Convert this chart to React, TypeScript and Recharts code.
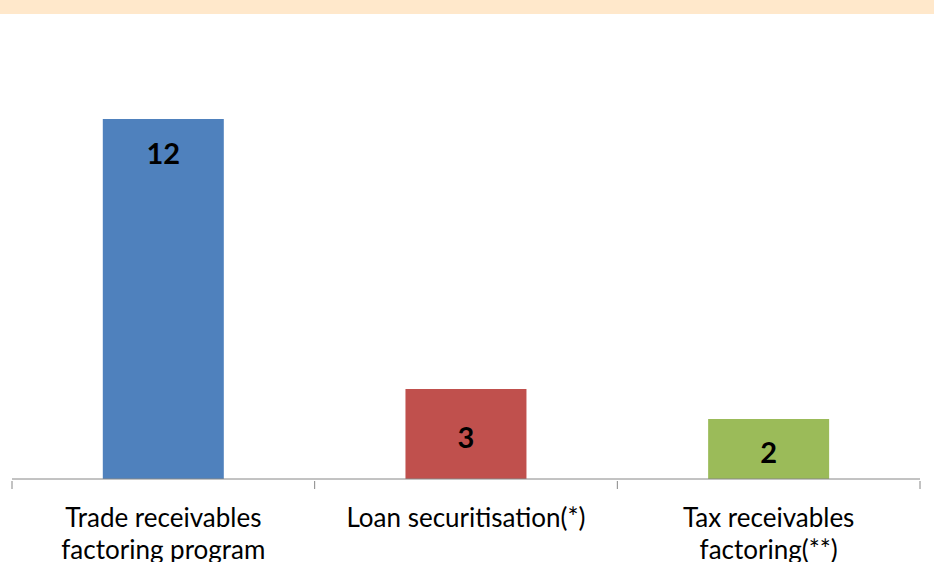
import { BarChart, Bar, XAxis, YAxis, Cell, LabelList } from 'recharts';

const categories = ['Trade receivables\nfactoring program', 'Loan securitisation(*)', 'Tax receivables\nfactoring(**)'];
const values = [12, 3, 2];
const colors = ['#4F81BD', '#C0504D', '#9BBB59'];

const data = categories.map((name, i) => ({ name, value: values[i] }));

const FONT = 'Lato, "Open Sans", sans-serif';
const W = 934;
const H = 562;
const MARGIN = { top: 59, right: 14, bottom: 0, left: 12 };
const HALF_BAND = (W - MARGIN.left - MARGIN.right) / categories.length / 2;
const AXIS_COLOR = '#868686';

function CategoryTick({ x, y, payload, index }: any) {
  const lines = String(payload.value).split('\n');
  const top = y - 8;
  return (
    <g>
      {/* Excel style: tick marks sit between categories */}
      <line x1={x - HALF_BAND} x2={x - HALF_BAND} y1={top} y2={top + 8} stroke={AXIS_COLOR} />
      {index === categories.length - 1 && (
        <line x1={x + HALF_BAND} x2={x + HALF_BAND} y1={top} y2={top + 8} stroke={AXIS_COLOR} />
      )}
      <text x={x} y={top + 46} textAnchor="middle" fontFamily={FONT} fontSize={26} fill="#000">
        {lines.map((l, i) => (
          <tspan key={i} x={x} dy={i === 0 ? 0 : 32}>{l}</tspan>
        ))}
      </text>
    </g>
  );
}

function ValueLabel({ x, y, width, height, value }: any) {
  // tall bar: label near the top, short bars: roughly centred
  const cy = height > 150 ? y + 33 : y + height / 2 + 2;
  return (
    <text
      x={x + width / 2}
      y={cy}
      textAnchor="middle"
      dominantBaseline="central"
      fontFamily={FONT}
      fontWeight="bold"
      fontSize={29}
      fill="#000"
    >
      {value}
    </text>
  );
}

export default function App() {
  return (
    <div style={{ position: 'fixed', left: 0, top: 0, width: W, height: H, background: '#fff' }}>
      <div style={{ position: 'absolute', left: 0, top: 0, width: W, height: 14, background: '#FFE8CB' }} />
      <BarChart width={W} height={H} data={data} margin={MARGIN} barCategoryGap="30%">
        <XAxis
          dataKey="name"
          interval={0}
          height={83}
          stroke={AXIS_COLOR}
          tickLine={false}
          tickSize={8}
          tick={<CategoryTick />}
        />
        <YAxis hide domain={[0, 14]} />
        <Bar dataKey="value" isAnimationActive={false}>
          {data.map((_, i) => (
            <Cell key={i} fill={colors[i]} />
          ))}
          <LabelList dataKey="value" content={<ValueLabel />} />
        </Bar>
      </BarChart>
    </div>
  );
}
